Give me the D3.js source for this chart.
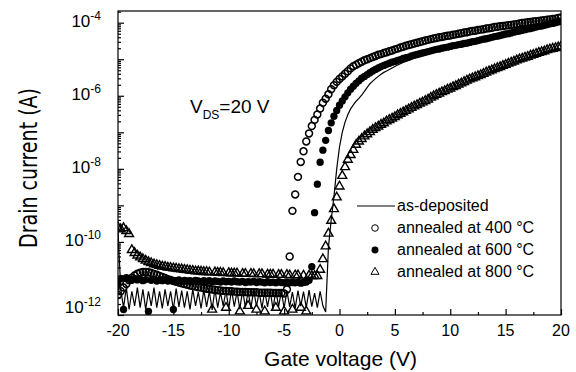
<!DOCTYPE html>
<html><head><meta charset="utf-8">
<script src="https://cdn.jsdelivr.net/npm/d3@7"></script>
<style>
body{margin:0;background:#fff}
svg{display:block}
text{font-family:"Liberation Sans",Arial,Helvetica,sans-serif;fill:#000}
</style>
</head><body>
<svg id="chart" width="576" height="372"></svg>
<script>
// Gate-voltage sweep (V), 0.25 V steps from -20 to 20
const gateV = d3.range(-20, 20.001, 0.25);

// log10 of drain current (A), one value per gate-voltage step
const logI_asDeposited = [
 -9.70,-11.30,-11.80,-11.25,-11.85,-11.35,-11.75,-11.25,
 -11.80,-11.30,-11.85,-11.35,-11.75,-11.25,-11.80,-11.35,
 -11.82,-11.30,-11.75,-11.35,-11.85,-11.28,-11.78,-11.33,
 -11.80,-11.35,-11.85,-11.30,-11.75,-11.37,-11.82,-11.32,
 -11.78,-11.35,-11.86,-11.29,-11.80,-11.38,-11.75,-11.33,
 -11.83,-11.30,-11.77,-11.36,-11.84,-11.32,-11.79,-11.35,
 -11.81,-11.31,-11.76,-11.38,-11.82,-11.33,-11.78,-11.36,
 -11.84,-11.32,-11.77,-11.35,-11.81,-11.34,-11.78,-11.37,
 -11.82,-11.33,-11.76,-11.36,-11.80,-11.32,-11.77,-11.40,
 -11.80,-11.35,-11.75,-11.92,-10.15,-9.40,-8.75,-8.00,
 -7.40,-7.00,-6.72,-6.52,-6.36,-6.25,-6.15,-6.07,
 -5.98,-5.88,-5.77,-5.67,-5.60,-5.53,-5.47,-5.41,
 -5.36,-5.32,-5.28,-5.24,-5.20,-5.16,-5.12,-5.09,
 -5.06,-5.03,-5.00,-4.97,-4.94,-4.91,-4.88,-4.86,
 -4.84,-4.82,-4.80,-4.78,-4.77,-4.75,-4.73,-4.72,
 -4.70,-4.68,-4.67,-4.65,-4.64,-4.62,-4.61,-4.59,
 -4.57,-4.56,-4.54,-4.52,-4.50,-4.49,-4.47,-4.45,
 -4.43,-4.42,-4.40,-4.38,-4.36,-4.35,-4.33,-4.31,
 -4.29,-4.28,-4.26,-4.24,-4.22,-4.21,-4.19,-4.17,
 -4.15,-4.14,-4.12,-4.10,-4.08,-4.07,-4.05,-4.03,
 -4.01];

const logI_400 = [
 -11.45,-11.35,-11.25,-11.15,-11.05,-10.98,-10.92,-10.87,
 -10.84,-10.82,-10.82,-10.83,-10.85,-10.88,-10.90,-10.93,
 -10.96,-10.99,-11.02,-11.04,-11.07,-11.09,-11.11,-11.13,
 -11.15,-11.17,-11.19,-11.21,-11.22,-11.24,-11.25,-11.27,
 -11.28,-11.29,-11.30,-11.31,-11.32,-11.33,-11.34,-11.34,
 -11.35,-11.35,-11.36,-11.36,-11.37,-11.37,-11.37,-11.38,
 -11.38,-11.38,-11.38,-11.39,-11.39,-11.39,-11.39,-11.39,
 -11.40,-11.40,-11.40,-11.40,-11.41,-11.30,-10.40,-9.15,
 -8.70,-8.22,-7.81,-7.52,-7.25,-7.03,-6.83,-6.66,
 -6.51,-6.35,-6.19,-6.08,-5.96,-5.82,-5.71,-5.62,
 -5.54,-5.47,-5.40,-5.33,-5.25,-5.19,-5.15,-5.11,
 -5.07,-5.03,-5.00,-4.97,-4.94,-4.91,-4.88,-4.86,
 -4.83,-4.81,-4.78,-4.76,-4.73,-4.71,-4.68,-4.66,
 -4.63,-4.61,-4.59,-4.57,-4.55,-4.53,-4.51,-4.49,
 -4.47,-4.45,-4.43,-4.42,-4.40,-4.39,-4.37,-4.36,
 -4.35,-4.33,-4.32,-4.30,-4.29,-4.27,-4.26,-4.24,
 -4.23,-4.22,-4.20,-4.19,-4.18,-4.16,-4.15,-4.14,
 -4.12,-4.11,-4.10,-4.09,-4.08,-4.07,-4.06,-4.05,
 -4.04,-4.02,-4.01,-4.00,-3.99,-3.98,-3.97,-3.96,
 -3.95,-3.94,-3.93,-3.92,-3.91,-3.90,-3.89,-3.87,
 -3.86];

const logI_600 = [
 -11.15,-11.00,-11.85,-10.98,-11.02,-11.05,-11.00,-11.04,
 -11.02,-11.06,-11.03,-11.90,-11.05,-11.02,-11.07,-11.04,
 -11.06,-11.03,-11.07,-11.05,-11.85,-11.06,-11.04,-11.08,
 -11.05,-11.07,-11.06,-11.08,-11.05,-11.07,-11.09,-11.06,
 -11.08,-11.06,-11.09,-11.07,-11.08,-11.10,-11.07,-11.09,
 -11.08,-11.10,-11.07,-11.09,-11.10,-11.08,-11.11,-11.09,
 -11.10,-11.08,-11.11,-11.09,-11.10,-11.12,-11.09,-11.11,
 -11.10,-11.12,-11.09,-11.11,-11.12,-11.10,-11.12,-11.11,
 -11.12,-11.10,-11.13,-11.11,-11.10,-11.05,-10.68,-9.20,
 -8.42,-7.82,-7.49,-7.22,-6.95,-6.74,-6.56,-6.40,
 -6.26,-6.14,-6.03,-5.92,-5.82,-5.74,-5.66,-5.59,
 -5.52,-5.47,-5.42,-5.37,-5.32,-5.28,-5.24,-5.20,
 -5.17,-5.14,-5.11,-5.08,-5.06,-5.03,-5.01,-4.98,
 -4.96,-4.94,-4.91,-4.89,-4.87,-4.85,-4.83,-4.81,
 -4.79,-4.77,-4.75,-4.73,-4.72,-4.70,-4.68,-4.67,
 -4.65,-4.63,-4.62,-4.60,-4.59,-4.57,-4.56,-4.54,
 -4.52,-4.51,-4.49,-4.47,-4.45,-4.44,-4.42,-4.40,
 -4.38,-4.37,-4.35,-4.33,-4.31,-4.30,-4.28,-4.26,
 -4.24,-4.23,-4.21,-4.19,-4.17,-4.16,-4.14,-4.12,
 -4.10,-4.09,-4.07,-4.05,-4.03,-4.02,-4.00,-3.98,
 -3.96];

const logI_800 = [
 -9.60,-9.65,-9.62,-9.70,-9.78,-10.22,-10.30,-10.37,
 -10.42,-10.47,-10.51,-10.55,-10.58,-10.61,-10.63,-10.65,
 -10.67,-10.68,-10.70,-10.71,-10.72,-10.73,-10.74,-10.75,
 -10.76,-10.77,-10.78,-10.79,-10.80,-10.80,-10.81,-10.82,
 -10.82,-10.83,-11.85,-10.83,-10.84,-10.84,-10.85,-11.80,
 -10.85,-10.86,-10.86,-10.86,-11.90,-10.87,-10.87,-11.75,
 -10.87,-10.88,-11.85,-10.88,-10.88,-11.90,-10.89,-10.89,
 -10.89,-11.80,-10.90,-10.90,-11.90,-10.90,-10.91,-11.85,
 -10.91,-10.91,-11.80,-10.92,-11.90,-10.92,-10.93,-10.93,
 -10.93,-10.76,-10.47,-10.12,-9.77,-9.42,-9.10,-8.78,
 -8.48,-8.19,-7.95,-7.75,-7.62,-7.48,-7.34,-7.25,
 -7.18,-7.11,-7.05,-6.99,-6.93,-6.88,-6.84,-6.79,
 -6.75,-6.70,-6.66,-6.62,-6.58,-6.53,-6.49,-6.45,
 -6.41,-6.37,-6.33,-6.29,-6.25,-6.21,-6.18,-6.14,
 -6.10,-6.05,-6.01,-5.97,-5.94,-5.90,-5.87,-5.83,
 -5.80,-5.76,-5.73,-5.69,-5.66,-5.62,-5.58,-5.55,
 -5.52,-5.49,-5.46,-5.43,-5.40,-5.36,-5.33,-5.30,
 -5.27,-5.24,-5.21,-5.18,-5.15,-5.12,-5.09,-5.06,
 -5.03,-5.00,-4.98,-4.95,-4.93,-4.90,-4.88,-4.85,
 -4.82,-4.80,-4.78,-4.75,-4.73,-4.71,-4.69,-4.67,
 -4.65];

const xTicks = [-20,-15,-10,-5,0,5,10,15,20];
const xMinorTicks = [-17.5,-12.5,-7.5,-2.5,2.5,7.5,12.5,17.5];
const yLabelExponents = [-4,-6,-8,-10,-12];
const legendLabels = ["as-deposited","annealed at 400 °C","annealed at 600 °C","annealed at 800 °C"];

const svg = d3.select("#chart");
const L = 118, R = 561, T = 11, B = 315;
const x = d3.scaleLinear().domain([-20, 20]).range([L, R]);
const y = d3.scaleLog().domain([1e-12, Math.pow(10, -3.68)]).range([B, T]);

const toPts = arr => arr.map((v, i) => ({V: gateV[i], I: Math.pow(10, v)}));

svg.append("defs").append("clipPath").attr("id", "clip")
  .append("rect").attr("x", L).attr("y", T).attr("width", R - L).attr("height", B - T);

const plot = svg.append("g").attr("clip-path", "url(#clip)");

// as-deposited line (drawn under the markers)
plot.append("path").datum(toPts(logI_asDeposited))
  .attr("fill", "none").attr("stroke", "#000").attr("stroke-width", 1.2)
  .attr("d", d3.line().x(d => x(d.V)).y(d => y(d.I)));

// 400 C open circles
plot.append("g").selectAll("path").data(toPts(logI_400)).join("path")
  .attr("d", d3.symbol().type(d3.symbolCircle).size(38))
  .attr("transform", d => `translate(${x(d.V)},${y(d.I)})`)
  .attr("fill", "none").attr("stroke", "#000").attr("stroke-width", 1.5);

// 800 C open triangles
plot.append("g").selectAll("path").data(toPts(logI_800)).join("path")
  .attr("d", d3.symbol().type(d3.symbolTriangle).size(34))
  .attr("transform", d => `translate(${x(d.V)},${y(d.I)})`)
  .attr("fill", "none").attr("stroke", "#000").attr("stroke-width", 1.4);

// 600 C filled circles
plot.append("g").selectAll("path").data(toPts(logI_600)).join("path")
  .attr("d", d3.symbol().type(d3.symbolCircle).size(42))
  .attr("transform", d => `translate(${x(d.V)},${y(d.I)})`)
  .attr("fill", "#000");

// Frame
svg.append("rect").attr("x", L).attr("y", T).attr("width", R - L).attr("height", B - T)
  .attr("fill", "none").attr("stroke", "#000").attr("stroke-width", 1.2);

// Y axis ticks (inward)
const decades = d3.range(-12, -3).map(e => Math.pow(10, e));
const minors = [];
d3.range(-12, -3).forEach(e => { for (let k = 2; k <= 9; k++) { const v = k * Math.pow(10, e); if (v < y.domain()[1]) minors.push(v); } });
const yAxMaj = svg.append("g").attr("transform", `translate(${L},0)`)
  .call(d3.axisLeft(y).tickValues(decades).tickSize(-6).tickFormat(""));
const yAxMin = svg.append("g").attr("transform", `translate(${L},0)`)
  .call(d3.axisLeft(y).tickValues(minors).tickSize(-3).tickFormat(""));
[yAxMaj, yAxMin].forEach(g => { g.select(".domain").remove(); g.selectAll("line").attr("stroke", "#000").attr("stroke-width", 1.2); });

// X axis ticks (inward)
const xAxMaj = svg.append("g").attr("transform", `translate(0,${B})`)
  .call(d3.axisBottom(x).tickValues(xTicks).tickSize(-6).tickFormat(""));
const xAxMin = svg.append("g").attr("transform", `translate(0,${B})`)
  .call(d3.axisBottom(x).tickValues(xMinorTicks).tickSize(-3).tickFormat(""));
[xAxMaj, xAxMin].forEach(g => { g.select(".domain").remove(); g.selectAll("line").attr("stroke", "#000").attr("stroke-width", 1.2); });

// X tick labels
svg.append("g").selectAll("text").data(xTicks).join("text")
  .attr("x", d => x(d)).attr("y", 335.5).attr("text-anchor", "middle")
  .attr("font-size", 16).text(d => String(d));

// Y tick labels
const yl = svg.append("g").selectAll("text").data(yLabelExponents).join("text")
  .attr("x", 101).attr("y", d => y(Math.pow(10, d)) + 4)
  .attr("dy", d => d === -12 ? -6 : 0)
  .attr("text-anchor", "end").attr("font-size", 17);
yl.append("tspan").text("10");
yl.append("tspan").attr("font-size", 12).attr("dy", -7).text(d => String(d));

// Axis titles
svg.append("text").attr("x", (L + R) / 2 + 1).attr("y", 366)
  .attr("text-anchor", "middle").attr("font-size", 21).text("Gate voltage (V)");
svg.append("text").attr("transform", "translate(37,168) rotate(-90)")
  .attr("text-anchor", "middle").attr("font-size", 25)
  .style("font-family", '"Liberation Sans Narrow","DejaVu Sans Condensed","Liberation Sans",sans-serif')
  .attr("textLength", 160).attr("lengthAdjust", "spacingAndGlyphs")
  .text("Drain current (A)");

// V_DS annotation
const vds = svg.append("text").attr("x", 190).attr("y", 113).attr("font-size", 19);
vds.append("tspan").text("V");
vds.append("tspan").attr("font-size", 12).attr("dy", 6).text("DS");
vds.append("tspan").attr("dy", -6).text("=20 V");

// Legend
const lg = svg.append("g");
const lx = 375, ly0 = 206, ldy = 22;
lg.append("line").attr("x1", 357).attr("x2", 395).attr("y1", ly0).attr("y2", ly0)
  .attr("stroke", "#000").attr("stroke-width", 1.2);
lg.append("path").attr("d", d3.symbol().type(d3.symbolCircle).size(34)())
  .attr("transform", `translate(${lx},${ly0 + ldy})`).attr("fill", "#fff").attr("stroke", "#000");
lg.append("path").attr("d", d3.symbol().type(d3.symbolCircle).size(38)())
  .attr("transform", `translate(${lx},${ly0 + 2 * ldy})`).attr("fill", "#000");
lg.append("path").attr("d", d3.symbol().type(d3.symbolTriangle).size(28)())
  .attr("transform", `translate(${lx},${ly0 + 3 * ldy})`).attr("fill", "#fff").attr("stroke", "#000");
lg.selectAll("text").data(legendLabels).join("text")
  .attr("x", 397).attr("y", (d, i) => ly0 + i * ldy + 5)
  .attr("font-size", 16).text(d => d);
</script>
</body></html>
